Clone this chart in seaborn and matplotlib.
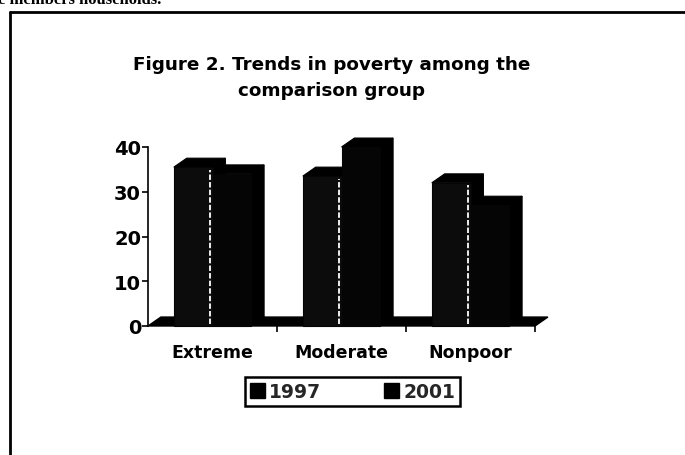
import matplotlib
matplotlib.use("Agg")
import matplotlib.pyplot as plt
import seaborn as sns
import pandas as pd
from matplotlib.patches import Polygon, Patch
from matplotlib.lines import Line2D

# Poverty shares (%) of the comparison group by category and survey year
categories = ["Extreme", "Moderate", "Nonpoor"]
years = ["1997", "2001"]
values_1997 = [35.5, 33.5, 32.0]
values_2001 = [34.0, 40.0, 27.0]
yticks = [0, 10, 20, 30, 40]

df = pd.DataFrame({
    "group": categories * 2,
    "year": [years[0]] * len(categories) + [years[1]] * len(categories),
    "pct": values_1997 + values_2001,
})

sns.set_theme(style="white")
plt.rcParams["font.family"] = ["DejaVu Sans"]
plt.rcParams["font.weight"] = "bold"

W, H = 685, 456
fig = plt.figure(figsize=(W / 100, H / 100), dpi=100)
fig.patch.set_facecolor("white")
ax = fig.add_axes([148 / W, 129 / H, 387 / W, 179 / H])
ax.set_facecolor("none")

sns.barplot(data=df, x="group", y="pct", hue="year", order=categories,
            hue_order=years, palette=["#0c0c0c", "#050505"], width=0.6,
            saturation=1, dodge=True, legend=False, ax=ax,
            edgecolor="#050505", linewidth=0.8, err_kws={"linewidth": 0})

ax.set_xlim(-0.5, 2.5)
ax.set_ylim(0, 40)

# pseudo-3D depth: shift toward the back-right
dx, dy = 0.10, 2.0

# floor slab
floor = Polygon([(-0.5, 0), (2.5, 0), (2.5 + dx, dy), (-0.5 + dx, dy)],
                closed=True, facecolor="black", edgecolor="black",
                zorder=0.4, clip_on=False)
ax.add_patch(floor)

for cont in ax.containers:
    for p in cont.patches:
        x0, w, h = p.get_x(), p.get_width(), p.get_height()
        top = Polygon([(x0, h), (x0 + w, h), (x0 + w + dx, h + dy), (x0 + dx, h + dy)],
                      closed=True, facecolor="black", edgecolor="black",
                      linewidth=0.8, zorder=0.5, clip_on=False)
        side = Polygon([(x0 + w, 0), (x0 + w + dx, dy), (x0 + w + dx, h + dy), (x0 + w, h)],
                       closed=True, facecolor="black", edgecolor="black",
                       linewidth=0.8, zorder=0.5, clip_on=False)
        ax.add_patch(top)
        ax.add_patch(side)
        p.set_clip_on(False)

# light edge on the front face of the 1997 bars
for p in ax.containers[0].patches:
    xe = p.get_x() + p.get_width() * 0.93
    ax.plot([xe, xe], [0.4, p.get_height() - 0.6], color="white", lw=1.3,
            ls=(0, (3, 1.2)), zorder=3, solid_capstyle="butt")

for s in ["top", "right", "bottom"]:
    ax.spines[s].set_visible(False)
ax.spines["left"].set_color("black")
ax.spines["left"].set_linewidth(1.2)

ax.set_yticks(yticks)
ax.set_yticklabels([str(t) for t in yticks], fontweight="bold")
ax.tick_params(axis="y", left=True, direction="out", length=4, width=1.2,
               color="black", labelsize=14, pad=1, labelcolor="black")
ax.set_xticks(range(len(categories)))
ax.set_xticklabels(categories, fontweight="bold")
ax.set_xticks([0.5, 1.5, 2.5], minor=True)
ax.tick_params(axis="x", which="major", length=0, labelsize=12.5, pad=12,
               labelcolor="black")
ax.tick_params(axis="x", which="minor", bottom=True, direction="out",
               length=4, width=1.2, color="black")
ax.set_xlabel("")
ax.set_ylabel("")

fig.text(332 / W, 1 - 56 / H,
         "Figure 2. Trends in poverty among the\ncomparison group",
         ha="center", va="top", fontsize=13.2, fontweight="bold",
         color="black", linespacing=1.6)

handles = [Patch(facecolor="black", edgecolor="black") for _ in years]
leg = fig.legend(handles, years, loc="center",
                 bbox_to_anchor=(245 / W, 1 - 407 / H, 215 / W, 29 / H),
                 mode="expand", ncol=2, frameon=True, fancybox=False,
                 edgecolor="black", framealpha=1, borderaxespad=0,
                 prop={"weight": "bold", "size": 13.5},
                 handlelength=0.8, handleheight=0.8, handletextpad=0.25,
                 borderpad=0.25)
leg.get_frame().set_linewidth(1.8)

# surrounding box of the figure panel
fig.add_artist(Line2D([10 / W, 10 / W], [0, 1 - 13 / H], transform=fig.transFigure,
                      color="black", lw=2))
fig.add_artist(Line2D([10 / W, 1], [1 - 13 / H, 1 - 13 / H], transform=fig.transFigure,
                      color="black", lw=2))

# running text of the page above the panel
fig.text(-2 / W, 1 - 4 / H, "e members households.", ha="left", va="baseline",
         fontsize=12, fontweight="bold", family=["Liberation Serif"], color="black")

fig.savefig("out.png", dpi=100, facecolor="white")
